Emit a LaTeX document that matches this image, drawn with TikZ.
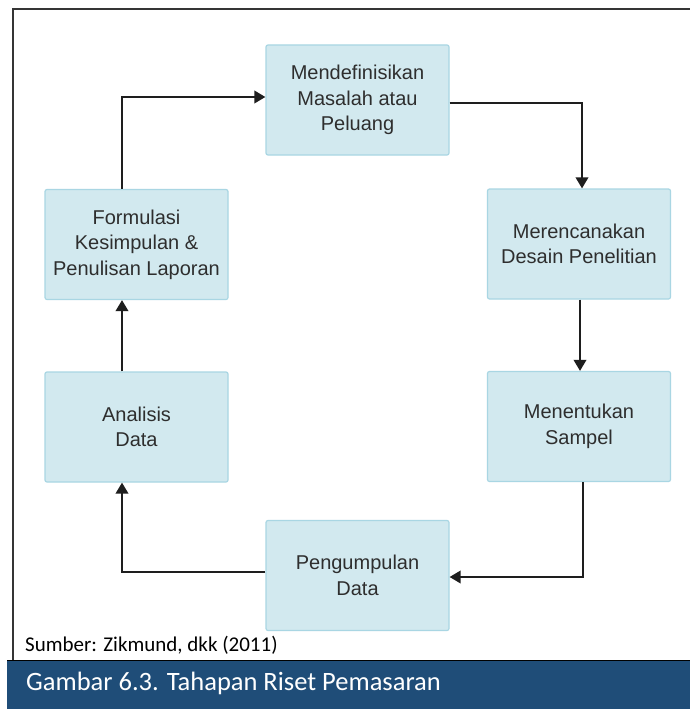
\documentclass[tikz,border=0pt]{standalone}
\usepackage{fontspec}
\setmainfont{Liberation Sans}
\newfontfamily\calib{Carlito}
\usetikzlibrary{arrows.meta}
\definecolor{boxfill}{HTML}{D2E9EF}
\definecolor{boxline}{HTML}{A9D6E3}
\definecolor{boxtext}{HTML}{2E2E2E}
\definecolor{frameline}{HTML}{353535}
\definecolor{capbar}{HTML}{1F4D78}
\definecolor{wireline}{HTML}{1E1E1E}
\tikzset{
  stage/.style={draw=boxline, line width=1.2pt, fill=boxfill, rounded corners=2pt,
    minimum width=183pt, minimum height=110pt, inner sep=0pt, align=center,
    text=boxtext, font=\fontsize{20}{25.5}\selectfont},
  wire/.style={draw=wireline, line width=1.9pt,
    -{Triangle[length=11pt,width=12.5pt]}},
}
\begin{document}
\begin{tikzpicture}[x=1pt,y=-1pt]
\useasboundingbox (0,0) rectangle (690,709);
\clip (0,0) rectangle (690,709);
\fill[white] (0,0) rectangle (690,709);
% outer frame
\draw[frameline, line width=2.6pt] (13,662) -- (13,9) -- (700,9);
% stages of the research cycle
\node[stage] (top) at (357.5,100) {Mendefinisikan\\Masalah atau\\Peluang};
\node[stage] (plan) at (579,244) {Merencanakan\\Desain Penelitian};
\node[stage] (sampel) at (579,426.5) {Menentukan\\Sampel};
\node[stage] (kumpul) at (357.5,575.5) {Pengumpulan\\Data};
\node[stage] (analisis) at (136.5,427) {Analisis\\Data};
\node[stage] (form) at (136.5,244.5) {Formulasi\\Kesimpulan \&\\Penulisan Laporan};
% connectors
\draw[wire] ([xshift=-14.5pt]form.north) |- ([yshift=3pt]top.west);
\draw[wire] ([yshift=-3pt]top.east) -| ([xshift=3pt]plan.north);
\draw[wire] ([xshift=1pt]plan.south) -- ([xshift=1pt]sampel.north);
\draw[wire] ([xshift=4pt]sampel.south) |- ([yshift=-1.5pt]kumpul.east);
\draw[wire] ([yshift=3.5pt]kumpul.west) -| ([xshift=-14.5pt]analisis.south);
\draw[wire] ([xshift=-14.5pt]analisis.north) -- ([xshift=-14.5pt]form.south);
% source note
\node[anchor=west, inner sep=0pt, font=\calib\fontsize{21}{25}\selectfont] (src) at (25,645) {Sumber: Zikmund, dkk (2011)};
% caption bar
\fill[capbar] (7,660) rectangle (690,709);
\draw[black, line width=1.5pt] (7,660.5) -- (690,660.5);
\node[anchor=west, inner sep=0pt, text=white, font=\calib\fontsize{26.5}{30}\selectfont] (cap) at (26,683) {Gambar 6.3. Tahapan Riset Pemasaran};
\end{tikzpicture}
\end{document}
